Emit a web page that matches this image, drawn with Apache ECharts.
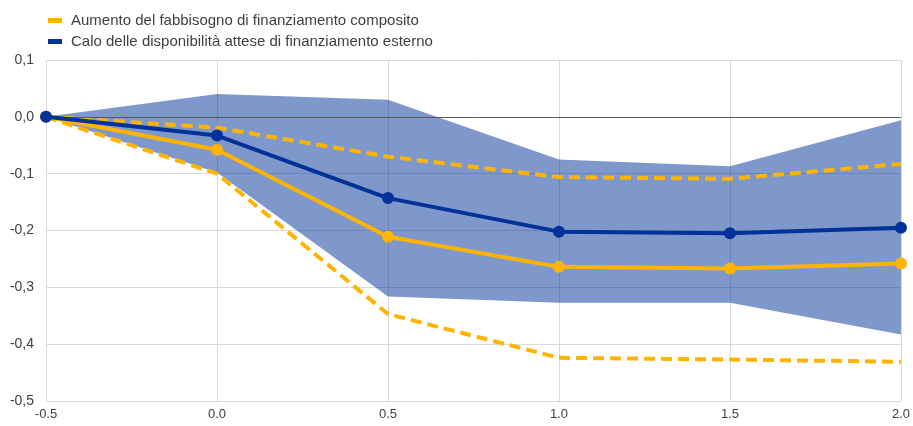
<!DOCTYPE html>
<html>
<head>
<meta charset="utf-8">
<script src="https://cdn.jsdelivr.net/npm/echarts@6/dist/echarts.min.js"></script>
<style>html,body{margin:0;padding:0;background:#fff}#c{width:913px;height:426px}</style>
</head>
<body>
<div id="c"></div>
<script>
var xValues = [-0.5, 0.0, 0.5, 1.0, 1.5, 2.0];
var composite = [0, -0.058, -0.211, -0.264, -0.267, -0.258];
var compositeUpper = [0, -0.019, -0.070, -0.106, -0.109, -0.083];
var compositeLower = [0, -0.100, -0.347, -0.424, -0.427, -0.431];
var external = [0, -0.033, -0.143, -0.202, -0.205, -0.195];
var externalUpper = [0, 0.040, 0.030, -0.075, -0.087, -0.006];
var externalLower = [0, -0.098, -0.316, -0.327, -0.327, -0.383];
var legendNames = ['Aumento del fabbisogno di finanziamento composito', 'Calo delle disponibilità attese di finanziamento esterno'];

function pairs(arr) { return xValues.map(function (x, i) { return [x, arr[i]]; }); }
var bandData = xValues.map(function (x, i) { return [x, externalLower[i], externalUpper[i]]; });

var YEL = '#FFB400', BLU = '#003299';
var chart = echarts.init(document.getElementById('c'));
chart.setOption({
  animation: false,
  textStyle: { fontFamily: 'Liberation Sans, Arial, sans-serif' },
  legend: {
    data: legendNames,
    orient: 'vertical', left: 43, top: 8, itemGap: 6,
    itemWidth: 14, itemHeight: 5, icon: 'rect',
    textStyle: { fontSize: 15, color: '#404040', padding: [0, 0, 0, 4], fontFamily: 'Liberation Sans, Arial, sans-serif' }
  },
  grid: { left: 46, right: 10, top: 60, bottom: 25 },
  xAxis: {
    type: 'value', min: -0.5, max: 2, interval: 0.5,
    axisLine: { show: false, onZero: false },
    axisTick: { show: false },
    axisLabel: { color: '#404040', fontSize: 13, margin: 7, formatter: function (v) { return v.toFixed(1); } },
    splitLine: { show: true, lineStyle: { color: '#d9d9d9', width: 1 } }
  },
  yAxis: {
    type: 'value', min: -0.5, max: 0.1, interval: 0.1,
    axisLine: { show: false },
    axisTick: { show: false },
    axisLabel: { color: '#404040', fontSize: 14, margin: 12, formatter: function (v) { return v.toFixed(1).replace('.', ','); } },
    splitLine: { show: true, lineStyle: { color: '#d9d9d9', width: 1 } }
  },
  series: [
    {
      name: 'band', type: 'custom', silent: true, z: 1,
      data: bandData,
      encode: { x: 0, y: [1, 2] },
      renderItem: function (params, api) {
        if (params.dataIndex !== 0) return null;
        var pts = [];
        for (var i = 0; i < bandData.length; i++) pts.push(api.coord([bandData[i][0], bandData[i][2]]));
        for (var j = bandData.length - 1; j >= 0; j--) pts.push(api.coord([bandData[j][0], bandData[j][1]]));
        return { type: 'polygon', shape: { points: pts }, style: { fill: BLU, opacity: 0.5 } };
      }
    },
    { name: 'zero', type: 'line', data: [], z: 2, markLine: { silent: true, symbol: 'none', label: { show: false }, lineStyle: { color: '#595959', width: 1, type: 'solid' }, data: [{ yAxis: 0 }] } },
    { name: 'upper', type: 'line', data: pairs(compositeUpper), symbol: 'none', lineStyle: { color: YEL, width: 4, type: [11, 6] }, z: 3 },
    { name: 'lower', type: 'line', data: pairs(compositeLower), symbol: 'none', lineStyle: { color: YEL, width: 4, type: [11, 6] }, z: 3 },
    { name: legendNames[0], type: 'line', data: pairs(composite), symbol: 'circle', symbolSize: 12, itemStyle: { color: YEL }, lineStyle: { color: YEL, width: 4 }, z: 4 },
    { name: legendNames[1], type: 'line', data: pairs(external), symbol: 'circle', symbolSize: 12, itemStyle: { color: BLU }, lineStyle: { color: BLU, width: 4 }, z: 5 }
  ]
});
</script>
</body>
</html>
